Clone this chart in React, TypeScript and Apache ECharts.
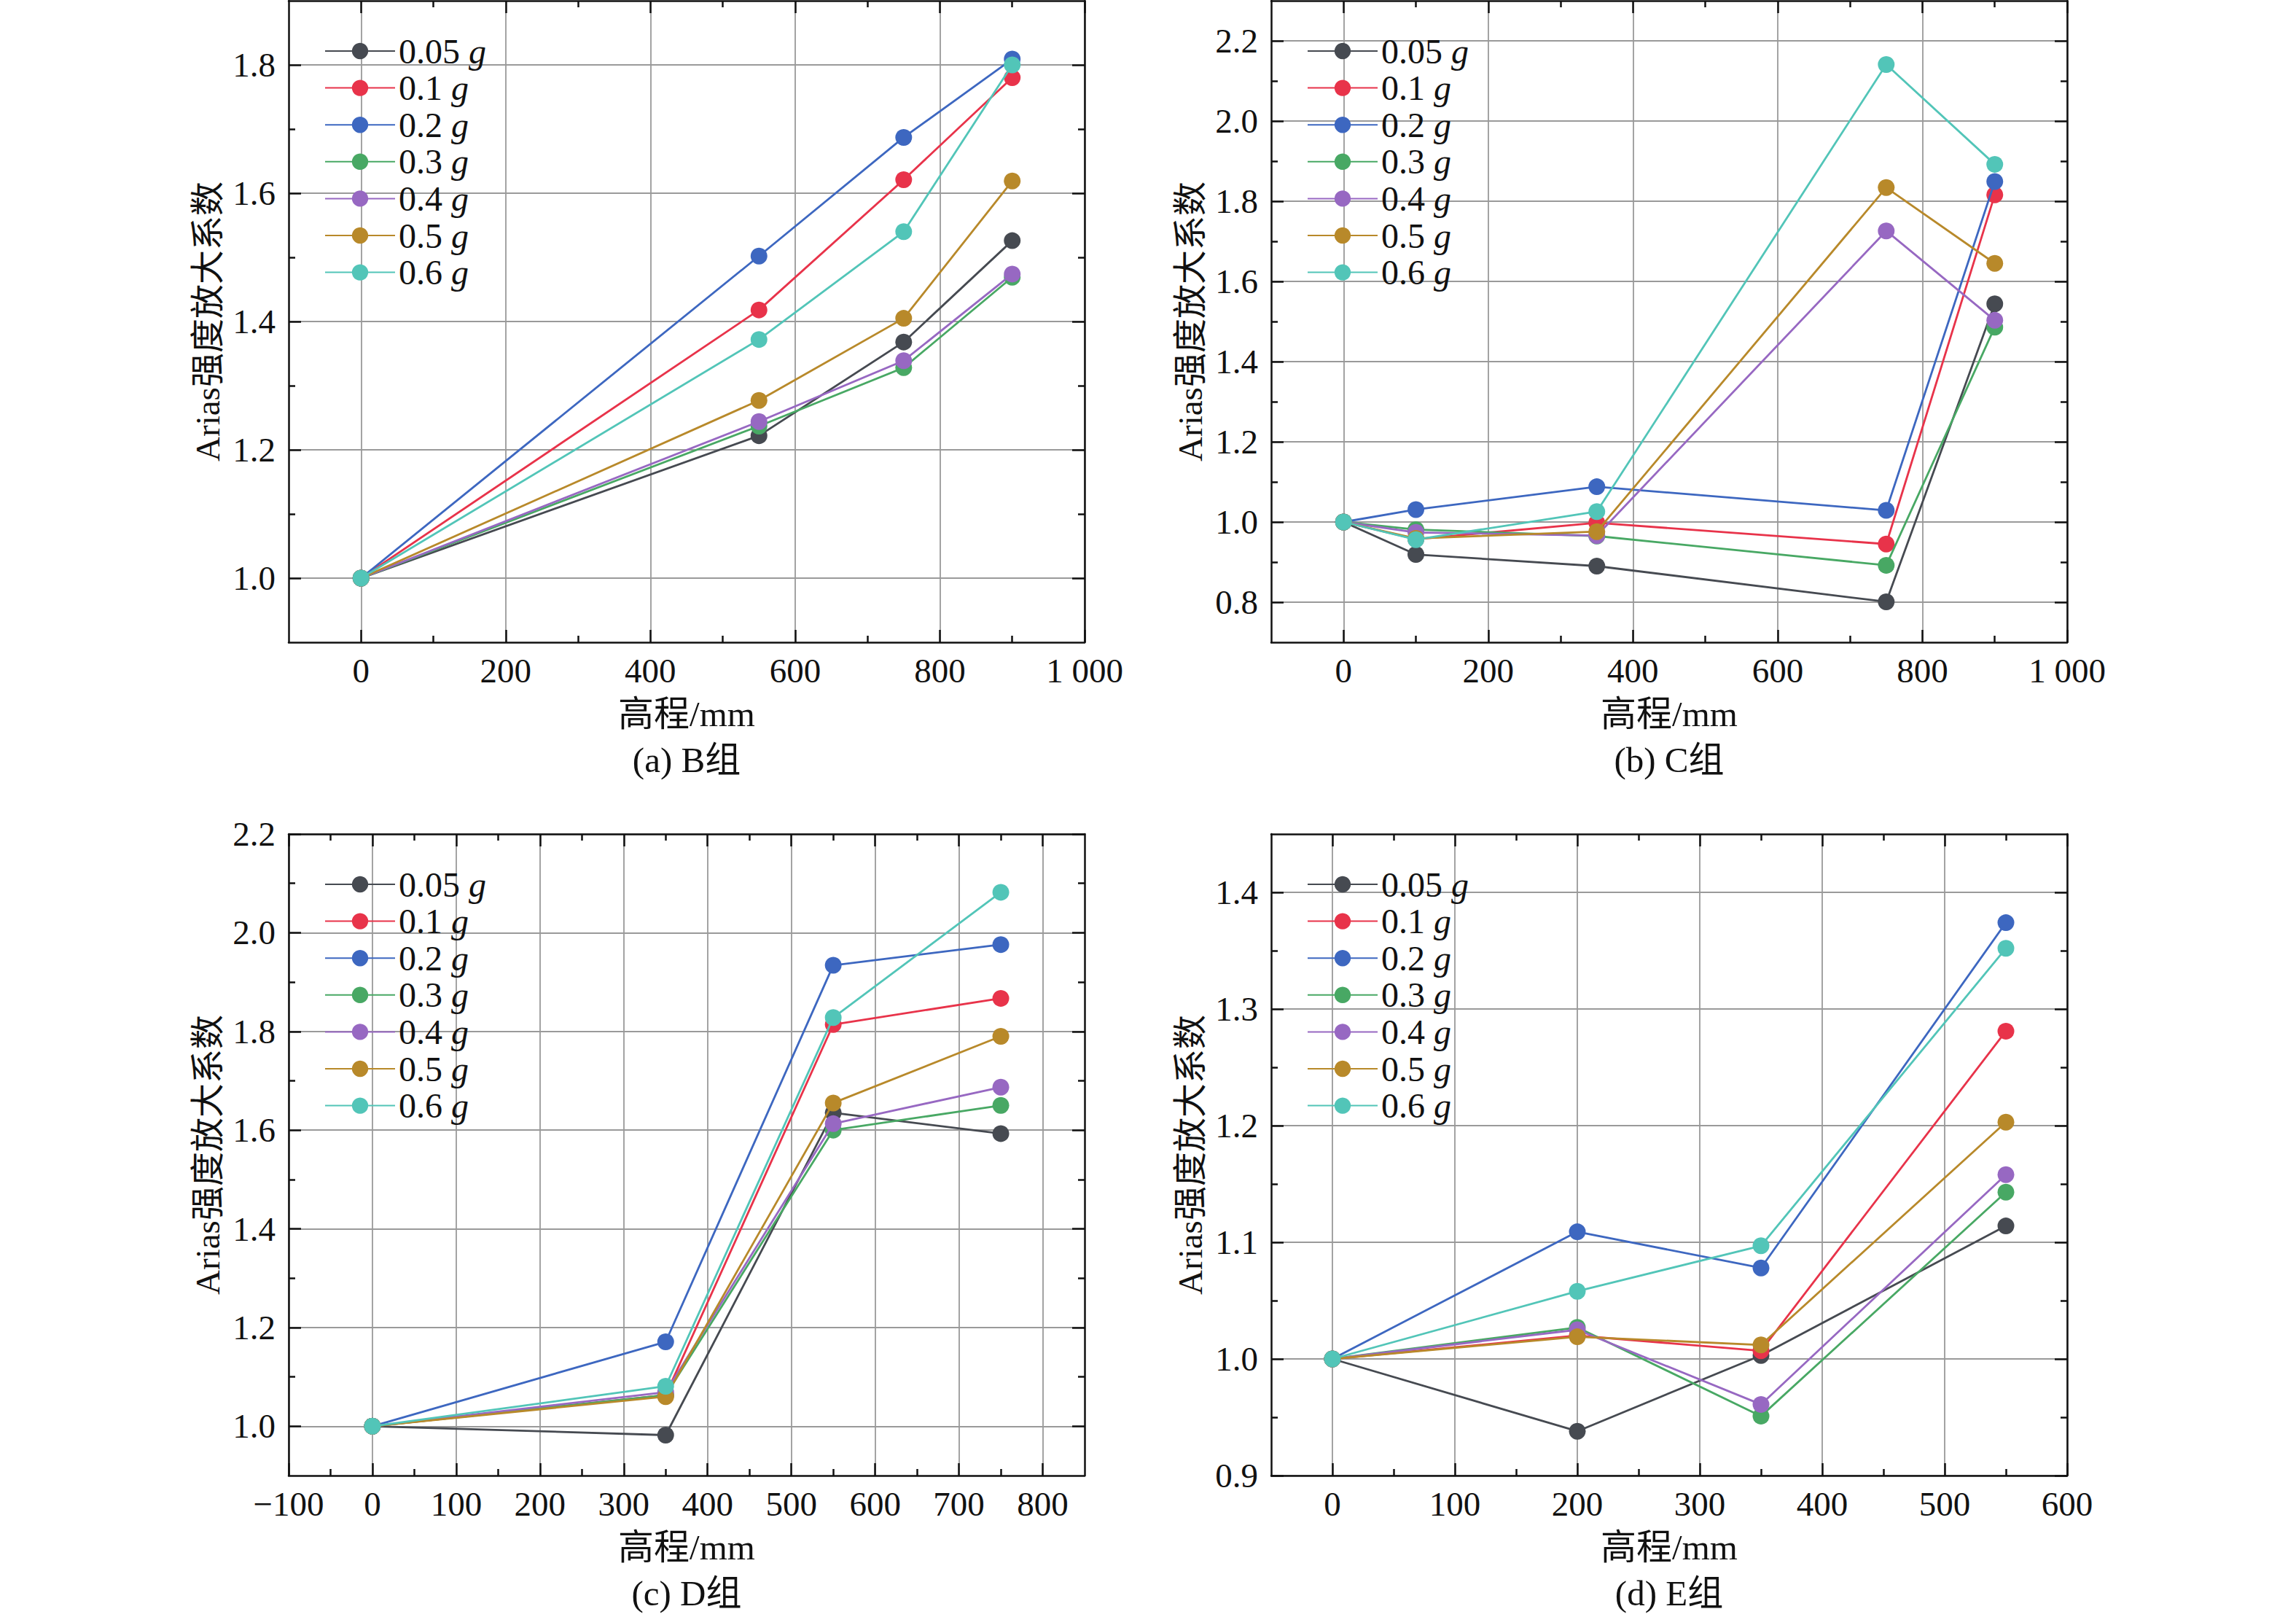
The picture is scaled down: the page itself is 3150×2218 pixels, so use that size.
import React, { useEffect, useRef } from 'react';
import * as echarts from 'echarts';

const SERIES_NAMES = ['0.05 g', '0.1 g', '0.2 g', '0.3 g', '0.4 g', '0.5 g', '0.6 g'];
const COLORS = ['#464a51', '#e8334a', '#3d67c0', '#48a864', '#9768c2', '#b8892a', '#52c5b8'];

// (a) B组
const B_X = [0, 550, 750, 900];
const B_VALUES = [
  [1.0, 1.222, 1.368, 1.526],
  [1.0, 1.418, 1.621, 1.78],
  [1.0, 1.502, 1.687, 1.809],
  [1.0, 1.237, 1.328, 1.469],
  [1.0, 1.244, 1.339, 1.474],
  [1.0, 1.277, 1.405, 1.619],
  [1.0, 1.372, 1.54, 1.8],
];
// (b) C组
const C_X = [0, 100, 350, 750, 900];
const C_VALUES = [
  [1.0, 0.919, 0.89, 0.801, 1.544],
  [1.0, 0.957, 0.998, 0.945, 1.816],
  [1.0, 1.031, 1.088, 1.029, 1.849],
  [1.0, 0.981, 0.965, 0.892, 1.486],
  [1.0, 0.974, 0.966, 1.726, 1.503],
  [1.0, 0.959, 0.976, 1.834, 1.645],
  [1.0, 0.956, 1.026, 2.141, 1.892],
];
// (c) D组
const D_X = [0, 350, 550, 750];
const D_VALUES = [
  [1.0, 0.982, 1.635, 1.593],
  [1.0, 1.063, 1.814, 1.867],
  [1.0, 1.171, 1.934, 1.976],
  [1.0, 1.063, 1.6, 1.65],
  [1.0, 1.069, 1.613, 1.687],
  [1.0, 1.06, 1.655, 1.79],
  [1.0, 1.081, 1.828, 2.082],
];
// (d) E组
const E_X = [0, 200, 350, 550];
const E_VALUES = [
  [1.0, 0.938, 1.003, 1.114],
  [1.0, 1.02, 1.007, 1.281],
  [1.0, 1.109, 1.078, 1.374],
  [1.0, 1.027, 0.951, 1.143],
  [1.0, 1.025, 0.961, 1.158],
  [1.0, 1.019, 1.012, 1.203],
  [1.0, 1.058, 1.097, 1.352],
];

// tick values
const AB_X_MAJOR = [0, 200, 400, 600, 800, 1000];
const AB_X_MINOR = [100, 300, 500, 700, 900];
const A_Y_MAJOR = [1.0, 1.2, 1.4, 1.6, 1.8];
const A_Y_MINOR = [1.1, 1.3, 1.5, 1.7];
const B_Y_MAJOR = [0.8, 1.0, 1.2, 1.4, 1.6, 1.8, 2.0, 2.2];
const B_Y_MINOR = [0.9, 1.1, 1.3, 1.5, 1.7, 1.9, 2.1];
const C_X_MAJOR = [-100, 0, 100, 200, 300, 400, 500, 600, 700, 800];
const C_X_MINOR = [-50, 50, 150, 250, 350, 450, 550, 650, 750];
const C_Y_MAJOR = [1.0, 1.2, 1.4, 1.6, 1.8, 2.0, 2.2];
const C_Y_MINOR = [1.1, 1.3, 1.5, 1.7, 1.9, 2.1];
const D_X_MAJOR = [0, 100, 200, 300, 400, 500, 600];
const D_X_MINOR = [50, 150, 250, 350, 450, 550];
const D_Y_MAJOR = [0.9, 1.0, 1.1, 1.2, 1.3, 1.4];
const D_Y_MINOR = [0.95, 1.05, 1.15, 1.25, 1.35];

const CAPTIONS = ['(a) B组', '(b) C组', '(c) D组', '(d) E组'];
const X_NAME = '高程/mm';
const Y_NAME = 'Arias强度放大系数';

const FONT = "'Liberation Serif', 'Noto Sans CJK SC', serif";
const INK = '#111';

const PANELS = [
  { x: B_X, values: B_VALUES, xMin: -100, xMax: 1000, yMin: 0.9, yMax: 1.9, xMajor: AB_X_MAJOR, xMinor: AB_X_MINOR, yMajor: A_Y_MAJOR, yMinor: A_Y_MINOR, left: 396, top: 1 },
  { x: C_X, values: C_VALUES, xMin: -100, xMax: 1000, yMin: 0.7, yMax: 2.3, xMajor: AB_X_MAJOR, xMinor: AB_X_MINOR, yMajor: B_Y_MAJOR, yMinor: B_Y_MINOR, left: 1744, top: 1 },
  { x: D_X, values: D_VALUES, xMin: -100, xMax: 850, yMin: 0.9, yMax: 2.2, xMajor: C_X_MAJOR, xMinor: C_X_MINOR, yMajor: C_Y_MAJOR, yMinor: C_Y_MINOR, left: 396, top: 1144 },
  { x: E_X, values: E_VALUES, xMin: -50, xMax: 600, yMin: 0.9, yMax: 1.45, xMajor: D_X_MAJOR, xMinor: D_X_MINOR, yMajor: D_Y_MAJOR, yMinor: D_Y_MINOR, left: 1744, top: 1144 },
];

const GRID_W = 1092;
const GRID_H = 880;

function fmtX(v: number) {
  const n = Math.round(v);
  if (n >= 1000) return String(n).replace(/(\d)(\d{3})$/, '$1 $2');
  if (n < 0) return '\u2212' + Math.abs(n);
  return String(n);
}
function fmtY(v: number) {
  return v.toFixed(1);
}

function buildOption() {
  const grid: any[] = [];
  const xAxis: any[] = [];
  const yAxis: any[] = [];
  const series: any[] = [];
  const legend: any[] = [];
  const graphic: any[] = [];
  const lineW = 2.8;

  PANELS.forEach((p, pi) => {
    grid.push({ left: p.left, top: p.top, width: GRID_W, height: GRID_H, containLabel: false, outerBoundsMode: 'none' });
    const baseX = {
      type: 'value', gridIndex: pi, min: p.xMin, max: p.xMax,
      axisLine: { show: false, onZero: false },
      axisTick: { show: false },
      axisLabel: { show: false },
      splitLine: { show: false },
    };
    const baseY = {
      type: 'value', gridIndex: pi, min: p.yMin, max: p.yMax,
      axisLine: { show: false, onZero: false },
      axisTick: { show: false },
      axisLabel: { show: false },
      splitLine: { show: false },
    };
    xAxis.push({
      ...baseX, position: 'bottom',
      axisLine: { show: true, onZero: false, lineStyle: { color: INK, width: 2.5 } },
      axisTick: { show: true, inside: true, length: 17, customValues: p.xMajor, lineStyle: { color: INK, width: 2.5 } },
      axisLabel: { show: true, customValues: p.xMajor, margin: 15, fontSize: 47, color: INK, fontFamily: FONT, formatter: fmtX },
      splitLine: { show: true, lineStyle: { color: '#9a9a9a', width: 1.8 } },
      name: X_NAME, nameLocation: 'middle', nameGap: 74,
      nameTextStyle: { fontSize: 49, color: INK, fontFamily: FONT },
    });
    xAxis.push({
      ...baseX, position: 'bottom',
      axisTick: { show: true, inside: true, length: 9, customValues: p.xMinor, lineStyle: { color: INK, width: 2.5 } },
    });
    xAxis.push({
      ...baseX, position: 'top',
      axisLine: { show: true, onZero: false, lineStyle: { color: INK, width: 2.5 } },
      axisTick: { show: true, inside: true, length: 17, customValues: p.xMajor, lineStyle: { color: INK, width: 2.5 } },
    });
    xAxis.push({
      ...baseX, position: 'top',
      axisTick: { show: true, inside: true, length: 9, customValues: p.xMinor, lineStyle: { color: INK, width: 2.5 } },
    });
    yAxis.push({
      ...baseY, position: 'left',
      axisLine: { show: true, onZero: false, lineStyle: { color: INK, width: 2.5 } },
      axisTick: { show: true, inside: true, length: 17, customValues: p.yMajor, lineStyle: { color: INK, width: 2.5 } },
      axisLabel: { show: true, customValues: p.yMajor, margin: 18, fontSize: 47, color: INK, fontFamily: FONT, formatter: fmtY },
      splitLine: { show: true, lineStyle: { color: '#9a9a9a', width: 1.8 } },
      name: Y_NAME, nameLocation: 'middle', nameGap: 88,
      nameTextStyle: { fontSize: 47, color: INK, fontFamily: FONT },
    });
    yAxis.push({
      ...baseY, position: 'left',
      axisTick: { show: true, inside: true, length: 9, customValues: p.yMinor, lineStyle: { color: INK, width: 2.5 } },
    });
    yAxis.push({
      ...baseY, position: 'right',
      axisLine: { show: true, onZero: false, lineStyle: { color: INK, width: 2.5 } },
      axisTick: { show: true, inside: true, length: 17, customValues: p.yMajor, lineStyle: { color: INK, width: 2.5 } },
    });
    yAxis.push({
      ...baseY, position: 'right',
      axisTick: { show: true, inside: true, length: 9, customValues: p.yMinor, lineStyle: { color: INK, width: 2.5 } },
    });

    p.values.forEach((vals, si) => {
      series.push({
        type: 'line',
        name: SERIES_NAMES[si],
        xAxisIndex: pi * 4,
        yAxisIndex: pi * 4,
        data: p.x.map((xv, i) => [xv, vals[i]]),
        symbol: 'circle',
        symbolSize: 23,
        showSymbol: true,
        lineStyle: { width: lineW, color: COLORS[si] },
        itemStyle: { color: COLORS[si] },
        z: 2 + si * 0.01,
      });
    });

    legend.push({
      orient: 'vertical',
      left: p.left + 44,
      top: p.top + 40,
      itemWidth: 96,
      itemHeight: 28,
      itemGap: 2.6,
      data: SERIES_NAMES,
      formatter: (name: string) => `{n|${name.split(' ')[0]} }{i|g}`,
      textStyle: {
        color: INK,
        fontFamily: FONT,
        fontSize: 48,
        rich: {
          n: { fontSize: 48, fontFamily: FONT, color: INK, lineHeight: 46 },
          i: { fontSize: 48, fontFamily: FONT, color: INK, fontStyle: 'italic', lineHeight: 46 },
        },
      },
      selectedMode: false,
    });

    graphic.push({
      type: 'text',
      x: p.left + GRID_W / 2,
      y: p.top + GRID_H + 161,
      style: {
        text: CAPTIONS[pi],
        fontSize: 49,
        fontFamily: FONT,
        fill: INK,
        align: 'center',
        verticalAlign: 'middle',
      },
    });
  });

  return {
    animation: false,
    backgroundColor: '#ffffff',
    grid, xAxis, yAxis, series, legend, graphic,
  };
}

export default function App() {
  const ref = useRef<HTMLDivElement>(null);
  useEffect(() => {
    if (!ref.current) return;
    const chart = echarts.init(ref.current, undefined, { renderer: 'svg' });
    chart.setOption(buildOption() as any);
    return () => chart.dispose();
  }, []);
  return (
    <div
      ref={ref}
      style={{ position: 'absolute', left: 0, top: 0, width: 3150, height: 2218, background: '#fff' }}
    />
  );
}
